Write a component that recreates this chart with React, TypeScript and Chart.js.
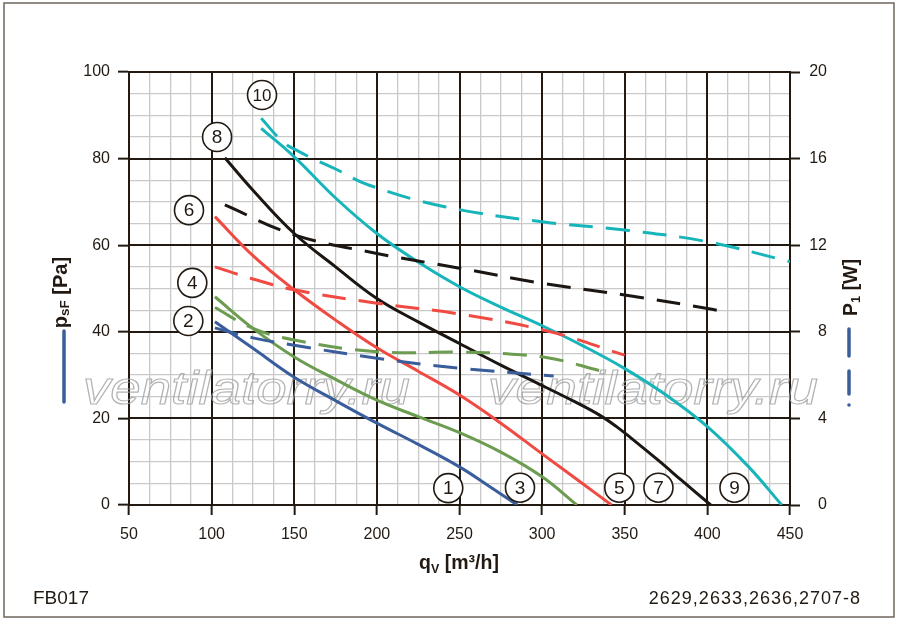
import React, { useRef, useEffect } from 'react';
import { Chart, registerables } from 'chart.js';

Chart.register(...registerables);

const FONT = '"Liberation Sans", Arial, Helvetica, sans-serif';
const INK = '#221a12';
const MINOR = '#c9c9c9';

// curve colours
const BLUE = '#3a5d9c';
const GREEN = '#6c9c50';
const RED = '#f04a43';
const BLACK = '#1c1612';
const CYAN = '#17b5ba';

// qV [m³/h] against psF [Pa] (solid) and P1 [W] (dashed)
const q1 = [102, 125, 150, 175, 200, 225, 250, 270, 285];
const ps1 = [42.3, 36.2, 29.5, 24.1, 18.9, 14.0, 8.8, 3.8, 0];
const q2 = [102, 125, 150, 200, 250, 307];
const pw2 = [8.18, 7.72, 7.38, 6.78, 6.32, 5.96];

const q3 = [102, 125, 150, 175, 200, 225, 250, 275, 300, 321];
const ps3 = [48.1, 40.8, 34.2, 29.0, 24.2, 20.4, 16.7, 12.2, 6.5, 0];
const q4 = [102, 125, 150, 200, 250, 275, 305, 335];
const pw4 = [9.12, 8.16, 7.62, 7.08, 7.06, 7.0, 6.78, 6.2];

const q5 = [102, 125, 150, 175, 200, 225, 250, 275, 300, 325, 342];
const ps5 = [66.6, 57.6, 49.7, 42.7, 36.3, 30.9, 25.4, 18.9, 11.8, 4.8, 0];
const q6 = [102, 125, 150, 200, 250, 305, 350];
const pw6 = [11.0, 10.44, 9.94, 9.32, 8.82, 8.0, 6.92];

const q7 = [108, 125, 150, 175, 200, 225, 250, 275, 300, 320, 335, 345, 355, 370, 385, 402];
const ps7 = [80.2, 72.7, 62.7, 55.0, 47.7, 42.3, 37.3, 32.3, 27.6, 23.8, 20.7, 18.1, 15.1, 10.4, 5.5, 0];
const q8 = [108, 150, 200, 250, 300, 350, 400, 413];
const pw8 = [13.86, 12.48, 11.62, 10.94, 10.24, 9.7, 9.08, 8.88];

const q9 = [130, 150, 175, 200, 225, 250, 275, 300, 325, 350, 375, 400, 425, 445];
const ps9 = [87.0, 80.4, 70.9, 62.7, 56.1, 50.4, 45.7, 41.4, 36.7, 31.5, 25.4, 18.1, 8.8, 0];
const q10 = [130, 143, 151, 165, 175, 195, 241, 300, 350, 400, 450];
const pw10 = [17.86, 16.78, 16.4, 15.86, 15.52, 14.78, 13.78, 13.08, 12.7, 12.16, 11.24];

// numbered curve markers (position in qV / psF units)
const markNo = ['1', '2', '3', '4', '5', '6', '7', '8', '9', '10'];
const markQ = [243.2, 85.9, 286.6, 88.3, 346.7, 86.3, 370.4, 103.3, 416.4, 130.5];
const markP = [3.9, 42.5, 4.0, 51.3, 4.0, 68.1, 4.0, 85.0, 4.0, 94.7];

const pts = (q: number[], v: number[]) => q.map((x, i) => ({ x, y: v[i] }));

const solid = (q: number[], v: number[], color: string) => ({
  data: pts(q, v),
  borderColor: color,
  yAxisID: 'y',
});
const dashed = (q: number[], v: number[], color: string) => ({
  data: pts(q, v),
  borderColor: color,
  borderDash: [24, 13],
  yAxisID: 'y1',
});

type Seg = { t: string; size: number; dy: number };

function drawRich(ctx: CanvasRenderingContext2D, segs: Seg[]) {
  let total = 0;
  for (const s of segs) {
    ctx.font = `bold ${s.size}px ${FONT}`;
    total += ctx.measureText(s.t).width;
  }
  let x = -total / 2;
  for (const s of segs) {
    ctx.font = `bold ${s.size}px ${FONT}`;
    ctx.fillText(s.t, x, s.dy);
    x += ctx.measureText(s.t).width;
  }
}

const background = {
  id: 'background',
  beforeDatasetsDraw(chart: Chart) {
    const { ctx, chartArea: a, scales } = chart;
    const x = scales.x;
    const y = scales.y;
    ctx.save();
    // heavy grid every 50 m³/h and 20 Pa
    ctx.strokeStyle = INK;
    ctx.lineWidth = 2;
    ctx.beginPath();
    for (const t of x.ticks) {
      if (t.value % 50 !== 0) continue;
      const px = Math.round(x.getPixelForValue(t.value));
      ctx.moveTo(px, a.top);
      ctx.lineTo(px, a.bottom);
    }
    for (const t of y.ticks) {
      if (t.value % 20 !== 0) continue;
      const py = Math.round(y.getPixelForValue(t.value));
      ctx.moveTo(a.left - 1, py);
      ctx.lineTo(a.right + 1, py);
    }
    ctx.stroke();

    // watermark
    ctx.strokeStyle = 'rgba(160,160,160,0.8)';
    ctx.font = `italic 46px ${FONT}`;
    ctx.textBaseline = 'alphabetic';
    const wm = 'ventilatorry.ru';
    const w = ctx.measureText(wm).width;
    for (const [left, width] of [[83, 327], [488, 330]]) {
      ctx.save();
      ctx.translate(left, 404);
      ctx.scale(width / w, 1);
      ctx.lineWidth = 1.1;
      ctx.strokeText(wm, 0, 0);
      ctx.restore();
    }
    ctx.restore();
  },
  afterDatasetsDraw(chart: Chart) {
    const { ctx, scales } = chart;
    ctx.save();
    ctx.textAlign = 'center';
    ctx.textBaseline = 'middle';
    markNo.forEach((n, i) => {
      const cx = scales.x.getPixelForValue(markQ[i]);
      const cy = scales.y.getPixelForValue(markP[i]);
      ctx.beginPath();
      ctx.arc(cx, cy, 14.5, 0, Math.PI * 2);
      ctx.fillStyle = '#fff';
      ctx.fill();
      ctx.lineWidth = 1.6;
      ctx.strokeStyle = INK;
      ctx.stroke();
      ctx.fillStyle = INK;
      ctx.font = `${n.length > 1 ? 17 : 19}px ${FONT}`;
      ctx.fillText(n, cx, cy + 1);
    });
    ctx.restore();
  },
  afterDraw(chart: Chart) {
    const { ctx } = chart;
    ctx.save();
    ctx.fillStyle = INK;
    ctx.textBaseline = 'alphabetic';
    ctx.textAlign = 'left';

    // axis titles
    ctx.save();
    ctx.translate(459, 569);
    drawRich(ctx, [
      { t: 'q', size: 19.5, dy: 0 },
      { t: 'V', size: 12.5, dy: 4 },
      { t: ' [m³/h]', size: 19.5, dy: 0 },
    ]);
    ctx.restore();

    ctx.save();
    ctx.translate(67, 292.5);
    ctx.rotate(-Math.PI / 2);
    drawRich(ctx, [
      { t: 'p', size: 20, dy: 0 },
      { t: 'sF', size: 13.5, dy: 2 },
      { t: ' [Pa]', size: 20, dy: 0 },
    ]);
    ctx.restore();

    ctx.save();
    ctx.translate(857, 287.5);
    ctx.rotate(-Math.PI / 2);
    drawRich(ctx, [
      { t: 'P', size: 19.5, dy: 0 },
      { t: '1', size: 13, dy: 3 },
      { t: ' [W]', size: 19.5, dy: 0 },
    ]);
    ctx.restore();

    // line-style keys next to the axis titles
    ctx.strokeStyle = BLUE;
    ctx.lineWidth = 3.5;
    ctx.lineCap = 'round';
    ctx.beginPath();
    ctx.moveTo(64, 331);
    ctx.lineTo(64, 402);
    ctx.moveTo(849, 329);
    ctx.lineTo(849, 356);
    ctx.moveTo(849, 371);
    ctx.lineTo(849, 394);
    ctx.stroke();
    ctx.fillStyle = BLUE;
    ctx.beginPath();
    ctx.arc(849, 405, 1.8, 0, Math.PI * 2);
    ctx.fill();

    // footer texts
    ctx.fillStyle = INK;
    ctx.font = `19px ${FONT}`;
    ctx.fillText('FB017', 33, 604);
    ctx.font = `18px ${FONT}`;
    ctx.textAlign = 'right';
    (ctx as any).letterSpacing = '1px';
    ctx.fillText('2629,2633,2636,2707-8', 861, 604);
    (ctx as any).letterSpacing = '0px';

    // frame
    ctx.strokeStyle = '#6f665c';
    ctx.lineWidth = 1.5;
    ctx.strokeRect(4, 3, 890, 614);
    ctx.restore();
  },
};

const tickFont = { family: FONT, size: 16 };

export default function App() {
  const canvasRef = useRef<HTMLCanvasElement>(null);

  useEffect(() => {
    if (!canvasRef.current) return;
    const chart = new Chart(canvasRef.current, {
      type: 'line',
      data: {
        datasets: [
          solid(q1, ps1, BLUE),
          dashed(q2, pw2, BLUE),
          solid(q3, ps3, GREEN),
          dashed(q4, pw4, GREEN),
          solid(q5, ps5, RED),
          dashed(q6, pw6, RED),
          solid(q7, ps7, BLACK),
          dashed(q8, pw8, BLACK),
          solid(q9, ps9, CYAN),
          dashed(q10, pw10, CYAN),
        ] as any,
      },
      options: {
        responsive: false,
        animation: false,
        layout: { padding: { top: 72, right: 73, bottom: 0, left: 0 } },
        plugins: { legend: { display: false }, tooltip: { enabled: false } },
        elements: {
          point: { radius: 0 },
          line: { borderWidth: 3, tension: 0.4, fill: false },
        },
        scales: {
          x: {
            type: 'linear',
            min: 50,
            max: 450,
            ticks: {
              stepSize: 12.5,
              autoSkip: false,
              maxRotation: 0,
              padding: 10,
              color: INK,
              font: tickFont,
              callback: (v: any) => (v % 50 === 0 ? String(v) : ''),
            },
            grid: {
              color: (c: any) => (c.tick && c.tick.value % 50 === 0 ? 'rgba(0,0,0,0)' : MINOR),
              lineWidth: 1.3,
              tickLength: 10,
              tickWidth: 2,
              tickColor: (c: any) => (c.tick && c.tick.value % 50 === 0 ? INK : 'rgba(0,0,0,0)'),
            },
            border: { color: INK, width: 2 },
            afterFit: (s: any) => {
              s.height = 118;
            },
          },
          y: {
            position: 'left',
            min: 0,
            max: 100,
            ticks: {
              stepSize: 5,
              autoSkip: false,
              padding: 8,
              color: INK,
              font: tickFont,
              callback: (v: any) => (v % 20 === 0 ? String(v) : ''),
            },
            grid: {
              color: (c: any) => (c.tick && c.tick.value % 20 === 0 ? 'rgba(0,0,0,0)' : MINOR),
              lineWidth: 1.3,
              tickLength: 11,
              tickWidth: 2,
              tickColor: (c: any) => (c.tick && c.tick.value % 20 === 0 ? INK : 'rgba(0,0,0,0)'),
            },
            border: { color: INK, width: 2 },
            afterFit: (s: any) => {
              s.width = 129;
            },
          },
          y1: {
            position: 'right',
            min: 0,
            max: 20,
            ticks: {
              stepSize: 4,
              padding: 8,
              crossAlign: 'far',
              color: INK,
              font: tickFont,
            },
            grid: {
              drawOnChartArea: false,
              tickLength: 10,
              tickWidth: 2,
              tickColor: INK,
            },
            border: { color: INK, width: 2 },
            afterFit: (s: any) => {
              s.width = 37;
            },
          },
        },
      },
      plugins: [background],
    });
    return () => chart.destroy();
  }, []);

  return (
    <div style={{ position: 'absolute', left: 0, top: 0, width: 900, height: 623, background: '#fff' }}>
      <canvas ref={canvasRef} width={900} height={623} style={{ width: 900, height: 623 }} />
    </div>
  );
}
